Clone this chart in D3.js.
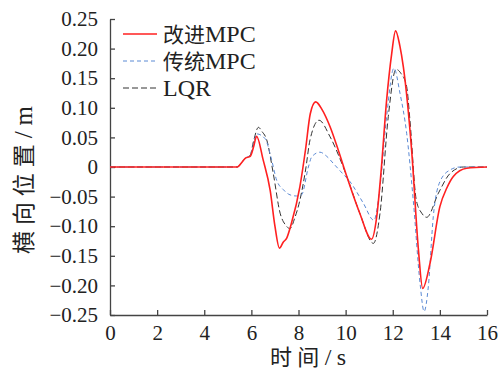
<!DOCTYPE html>
<html>
<head>
<meta charset="utf-8">
<script src="https://cdn.jsdelivr.net/npm/d3@7"></script>
<style>
  body { margin: 0; background: #fff; }
  text { font-family: "Liberation Serif", "Noto Sans CJK SC", serif; fill: #222; }
</style>
</head>
<body>
<div id="chart"></div>
<script>
// Series data: time (s) and lateral position (m).
const seriesNames = ['改进MPC', '传统MPC', 'LQR'];

const tImproved = [0, 5.4, 5.6, 5.75, 5.95, 6.1, 6.22, 6.5, 6.8, 7.0, 7.19, 7.35, 7.5, 7.7, 8.06, 8.3, 8.5, 8.73, 9.0, 9.34, 9.7, 10.05, 10.6, 11.1, 11.32, 11.5, 11.74, 11.95, 12.12, 12.3, 12.45, 12.8, 13.09, 13.27, 13.58, 14.0, 14.3, 14.57, 15.14, 16];
const yImproved = [0, 0, 0.008, 0.015, 0.018, 0.035, 0.052, 0.012, -0.04, -0.1, -0.137, -0.127, -0.12, -0.095, -0.033, 0.03, 0.09, 0.110, 0.097, 0.068, 0.027, -0.016, -0.078, -0.122, -0.084, -0.01, 0.113, 0.19, 0.230, 0.205, 0.169, 0.029, -0.140, -0.205, -0.163, -0.067, -0.035, -0.016, -0.002, 0];

const tClassic = [0, 5.4, 5.6, 5.75, 5.95, 6.1, 6.22, 6.58, 6.86, 7.07, 7.35, 7.64, 7.92, 8.13, 8.42, 8.56, 8.91, 9.2, 9.48, 9.8, 10.19, 10.75, 11.2, 11.46, 11.74, 12.05, 12.31, 12.59, 12.87, 13.16, 13.33, 13.51, 13.72, 14.0, 14.43, 14.85, 16];
const yClassic = [0, 0, 0.008, 0.015, 0.02, 0.04, 0.056, 0.048, 0.012, -0.022, -0.038, -0.047, -0.049, -0.047, 0.0, 0.017, 0.025, 0.018, 0.006, -0.008, -0.025, -0.061, -0.090, -0.033, 0.085, 0.167, 0.124, 0.057, -0.056, -0.197, -0.244, -0.202, -0.084, -0.025, -0.005, 0, 0];

const tLqr = [0, 5.4, 5.6, 5.75, 5.95, 6.1, 6.3, 6.45, 6.65, 6.93, 7.22, 7.45, 7.64, 7.85, 8.06, 8.3, 8.49, 8.87, 9.34, 10.05, 10.6, 11.18, 11.46, 11.81, 12.14, 12.35, 12.59, 12.73, 13.0, 13.23, 13.44, 13.94, 14.43, 15, 16];
const yLqr = [0, 0, 0.008, 0.015, 0.02, 0.045, 0.067, 0.06, 0.046, -0.011, -0.078, -0.098, -0.104, -0.085, -0.056, -0.005, 0.046, 0.079, 0.051, -0.016, -0.078, -0.129, -0.078, 0.085, 0.165, 0.158, 0.136, 0.079, -0.056, -0.078, -0.085, -0.044, -0.011, 0, 0];

const xTicks = [0, 2, 4, 6, 8, 10, 12, 14, 16];
const yTicks = [-0.25, -0.2, -0.15, -0.1, -0.05, 0, 0.05, 0.1, 0.15, 0.2, 0.25];

const W = 503, H = 372;
const margins = { top: 19, right: 16, bottom: 57, left: 110 };
const width = W - margins.left - margins.right;
const height = H - margins.top - margins.bottom;

const svg = d3.select('#chart').append('svg')
  .attr('width', W)
  .attr('height', H);

const g = svg.append('g')
  .attr('transform', `translate(${margins.left}, ${margins.top})`);

const x = d3.scaleLinear().domain([0, 16]).range([0, width]);
const y = d3.scaleLinear().domain([-0.25, 0.25]).range([height, 0]);

const fmtY = v => v === 0 ? '0' : (v < 0 ? '\u2212' : '') + d3.format('.2f')(Math.abs(v));

// Axes, ticks point inward
const xAxis = d3.axisBottom(x).tickValues(xTicks).tickSizeInner(-5).tickSizeOuter(0).tickPadding(10);
const yAxis = d3.axisLeft(y).tickValues(yTicks).tickSizeInner(-5).tickSizeOuter(0).tickPadding(12).tickFormat(fmtY);

const gx = g.append('g')
  .attr('transform', `translate(0, ${height})`)
  .call(xAxis);
const gy = g.append('g').call(yAxis);

[gx, gy].forEach(a => {
  a.selectAll('path, line').attr('stroke', '#444').attr('stroke-width', 1.3);
  a.selectAll('text')
    .attr('font-size', 21)
    .attr('font-family', '"Liberation Serif", serif')
    .attr('fill', '#222');
});

// Mixed text: CJK part a bit smaller than the Latin part, like the original typesetting
function mixed(sel, str, cjkSize, latinSize) {
  const parts = str.match(/[\u4e00-\u9fff]+|[^\u4e00-\u9fff]+/g);
  parts.forEach(p => {
    sel.append('tspan')
      .attr('font-size', /[\u4e00-\u9fff]/.test(p) ? cjkSize : latinSize)
      .text(p);
  });
  return sel;
}

// Axis titles
const xTitle = svg.append('text')
  .attr('x', 308)
  .attr('y', 365)
  .attr('text-anchor', 'middle')
  .attr('textLength', 76)
  .attr('lengthAdjust', 'spacing');
mixed(xTitle, '时间/s', 22, 24);

const yTitle = svg.append('text')
  .attr('transform', 'translate(32, 180) rotate(-90)')
  .attr('text-anchor', 'middle')
  .attr('textLength', 148)
  .attr('lengthAdjust', 'spacing');
mixed(yTitle, '横向位置/m', 23, 25);

// Lines
const series = [
  { name: seriesNames[0], t: tImproved, v: yImproved, color: '#ff2020', width: 1.6, dash: null },
  { name: seriesNames[1], t: tClassic, v: yClassic, color: '#5b8ad4', width: 1, dash: '4,3' },
  { name: seriesNames[2], t: tLqr, v: yLqr, color: '#333333', width: 1, dash: '6,3' }
];

const line = d3.line()
  .x(d => x(d[0]))
  .y(d => y(d[1]))
  .curve(d3.curveMonotoneX);

// draw back to front so the red line sits on top
series.slice().reverse().forEach(s => {
  g.append('path')
    .datum(d3.zip(s.t, s.v))
    .attr('fill', 'none')
    .attr('stroke', s.color)
    .attr('stroke-width', s.width)
    .attr('stroke-dasharray', s.dash)
    .attr('d', line);
});

// Legend
const legend = svg.append('g').attr('transform', 'translate(123, 34)');
series.forEach((s, i) => {
  const row = legend.append('g').attr('transform', `translate(0, ${i * 27})`);
  row.append('line')
    .attr('x1', 0).attr('x2', 34)
    .attr('y1', 0).attr('y2', 0)
    .attr('stroke', s.color)
    .attr('stroke-width', s.width)
    .attr('stroke-dasharray', s.dash);
  const t = row.append('text')
    .attr('x', 40)
    .attr('y', 8);
  mixed(t, s.name, 21, 24);
});
</script>
</body>
</html>
